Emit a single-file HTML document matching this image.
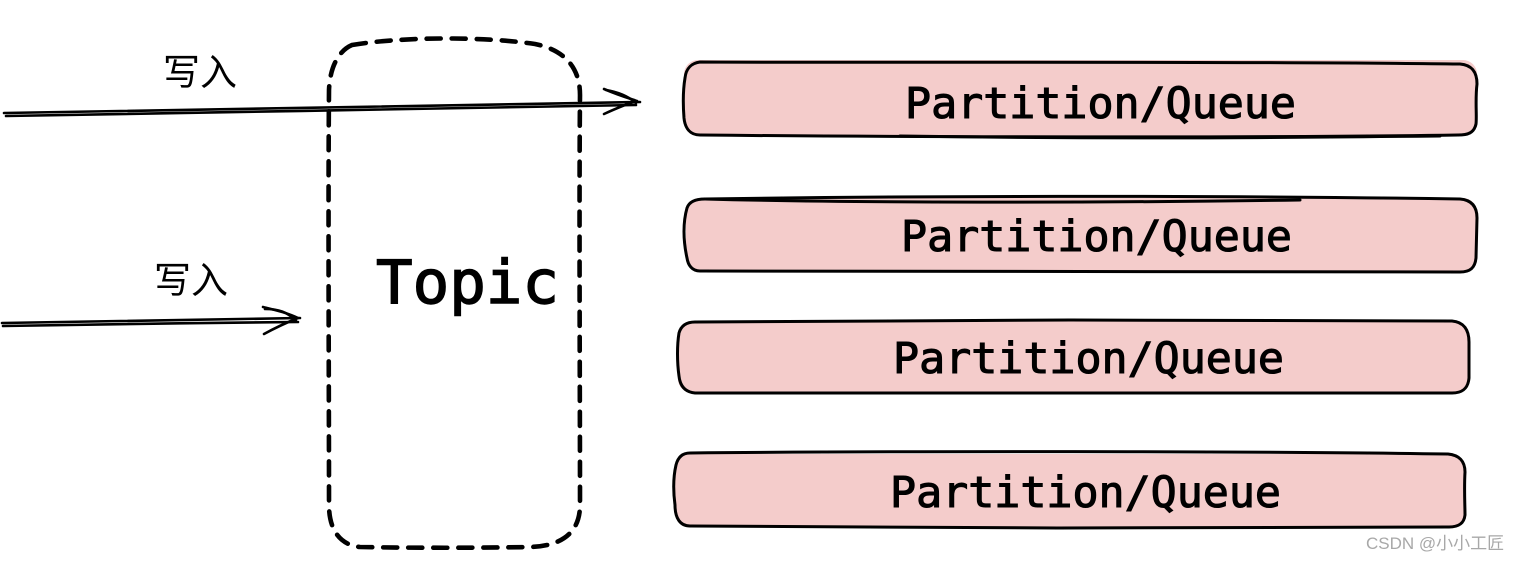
<!DOCTYPE html>
<html><head><meta charset="utf-8"><style>html,body{margin:0;padding:0;background:#fff}svg{display:block}</style></head>
<body><svg width="1518" height="562" viewBox="0 0 1518 562" xmlns="http://www.w3.org/2000/svg">
<g fill="#f4cccb" stroke="none">
<rect x="684" y="60" width="793" height="76" rx="14"/>
<rect x="686" y="198" width="791" height="74" rx="14"/>
<rect x="678" y="321" width="791" height="72" rx="14"/>
<rect x="675" y="454" width="790" height="73" rx="14"/>
</g>
<g fill="none" stroke="#000" stroke-width="3" stroke-linecap="round" stroke-linejoin="round">
<path d="M700 62C900 63 1250 61 1460 64C1472 65 1477 72 1477 84C1475 100 1477 116 1476 124C1474 133 1468 135 1458 135C1250 138 900 137 700 135C690 135 685 128 684 118C683 105 683 90 685 78C686 68 692 63 700 62Z"/>
<path d="M900 136C1100 139 1250 138 1440 136"/>
<path d="M705 199C900 196 1200 195 1460 199C1472 200 1477 207 1477 218L1476 258C1475 268 1470 272 1460 272L700 271C692 271 688 265 687 258C683 240 683 222 687 208C689 202 695 199 705 199Z"/>
<path d="M705 199C850 203 1100 203 1300 200"/>
<path d="M695 322C900 320 1250 319 1452 321C1464 322 1469 330 1469 342L1469 378C1468 389 1462 393 1452 393L695 393C685 392 680 386 679 376C677 362 677 345 679 333C681 326 686 322 695 322Z"/>
<path d="M690 453C900 451 1250 451 1448 454C1459 455 1465 461 1465 472C1464 490 1465 505 1465 515C1464 524 1458 527 1449 527C1250 529 900 528 690 526C680 526 675 518 675 505C673 490 673 478 676 465C678 457 683 453 690 453Z"/>
</g>
<path d="M352 45C400 37 480 36 535 44C565 50 580 68 580 95C579 200 580 400 580 505C580 530 565 546 530 547C480 548 410 548 360 547C340 545 329 530 329 505C329 400 328 200 329 90C330 65 340 50 352 45Z" fill="none" stroke="#000" stroke-width="4.6" stroke-linecap="round" stroke-dasharray="14 11"/>
<g fill="none" stroke="#000" stroke-width="2.6" stroke-linecap="round" stroke-linejoin="round">
<path d="M4 113C200 110 450 105 640 102"/>
<path d="M6 116C200 113 450 108 636 105"/>
<path d="M604 89C618 95 628 98 637 101C626 104 615 109 604 114"/>
<path d="M606 90C618 92 628 96 636 103"/>
<path d="M2 323C100 321 200 320 300 318"/>
<path d="M3 326C100 324 200 323 298 322"/>
<path d="M263 307C275 310 288 313 298 318C288 322 275 328 264 334"/>
<path d="M265 309C278 309 288 312 296 321"/>
</g>
<g font-family="'DejaVu Sans Mono','Liberation Mono',monospace" fill="#000" stroke="#000" stroke-width="1.1">
<text x="905" y="118" font-size="43" textLength="391" lengthAdjust="spacingAndGlyphs">Partition/Queue</text>
<text x="901" y="251" font-size="43" textLength="391" lengthAdjust="spacingAndGlyphs">Partition/Queue</text>
<text x="893" y="373" font-size="43" textLength="391" lengthAdjust="spacingAndGlyphs">Partition/Queue</text>
<text x="890" y="507" font-size="43" textLength="391" lengthAdjust="spacingAndGlyphs">Partition/Queue</text>
<text x="376" y="303" font-size="60" stroke-width="1.4" textLength="183" lengthAdjust="spacingAndGlyphs">Topic</text>
</g>
<g font-family="'Liberation Sans','WenQuanYi Zen Hei','Noto Sans CJK SC',sans-serif" font-size="37" fill="#000">
<text x="163" y="85">写入</text>
<text x="154" y="293">写入</text>
</g>
<text x="1366" y="549" font-family="'Liberation Sans','Noto Sans CJK SC',sans-serif" font-size="17" fill="#a8a8a8">CSDN @小小工匠</text>
</svg></body></html>
